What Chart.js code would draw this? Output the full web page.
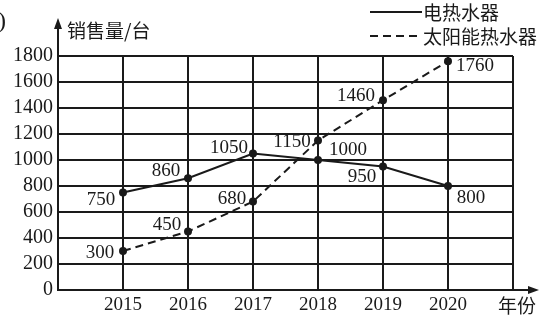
<!DOCTYPE html>
<html>
<head>
<meta charset="utf-8">
<script src="https://cdn.jsdelivr.net/npm/chart.js@4/dist/chart.umd.min.js"></script>
<style>
  html, body { margin: 0; padding: 0; background: #fff; }
  #wrap { width: 545px; height: 315px; position: relative; }
</style>
</head>
<body>
<div id="wrap"><canvas id="myChart"></canvas></div>
<script>
// DATOS DEL GRAFICO
const years = [2015, 2016, 2017, 2018, 2019, 2020];
const electricSales = [750, 860, 1050, 1000, 950, 800];
const solarSales = [300, 450, 680, 1150, 1460, 1760];
const yTicks = [0, 200, 400, 600, 800, 1000, 1200, 1400, 1600, 1800];
const seriesNames = ["电热水器", "太阳能热水器"];

// donde va cada etiqueta respecto a su punto [dx, dy]
const electricLabelPos = [[-22, 8], [-22, -7], [-24, -5], [30, -10], [-21, 11], [23, 12]];
const solarLabelPos = [[-23, 2], [-21, -6], [-21, -3], [-26, 2], [-27, -4], [27, 5]];

const INK = "#1a1a1a";
const NUM_FONT = "19px 'Liberation Serif', 'DejaVu Serif', serif";
const CJK_FONT = "19px 'Noto Sans CJK SC', sans-serif";

const toPoints = (vals) => vals.map((v, i) => ({ x: years[i], y: v }));

// PLUGIN PARA FLECHAS, TITULOS Y LEYENDA
const decorations = {
  id: "decorations",
  afterDraw(chart) {
    const ctx = chart.ctx;
    const area = chart.chartArea;
    ctx.save();
    ctx.strokeStyle = INK;
    ctx.fillStyle = INK;
    ctx.lineWidth = 2;

    // eje y con flecha
    ctx.beginPath();
    ctx.moveTo(area.left, area.top);
    ctx.lineTo(area.left, 24);
    ctx.stroke();
    ctx.beginPath();
    ctx.moveTo(area.left, 18);
    ctx.lineTo(area.left - 4, 29);
    ctx.lineTo(area.left + 4, 29);
    ctx.closePath();
    ctx.fill();

    // eje x con flecha
    ctx.beginPath();
    ctx.moveTo(area.right, area.bottom);
    ctx.lineTo(532, area.bottom);
    ctx.stroke();
    ctx.beginPath();
    ctx.moveTo(539, area.bottom);
    ctx.lineTo(528, area.bottom - 4);
    ctx.lineTo(528, area.bottom + 4);
    ctx.closePath();
    ctx.fill();

    ctx.font = CJK_FONT;
    ctx.textBaseline = "middle";
    ctx.textAlign = "left";
    ctx.fillText("销售量/台", 67, 31);
    ctx.fillText("年份", 498, 306);

    // resto del recorte original
    ctx.font = "24px 'Liberation Serif', serif";
    ctx.fillText(")", -2, 22);

    // leyenda
    chart.data.datasets.forEach((ds, i) => {
      const y = 12 + i * 24;
      ctx.setLineDash(ds.borderDash || []);
      ctx.lineWidth = 1.8;
      ctx.beginPath();
      ctx.moveTo(370, y);
      ctx.lineTo(422, y);
      ctx.stroke();
      ctx.setLineDash([]);
      ctx.font = CJK_FONT;
      ctx.fillText(ds.label, 423, y + 1);
    });

    // etiquetas de valores
    ctx.font = NUM_FONT;
    ctx.textAlign = "center";
    chart.data.datasets.forEach((ds, i) => {
      const meta = chart.getDatasetMeta(i);
      meta.data.forEach((pt, j) => {
        const off = ds.labelPos[j];
        ctx.fillText(String(ds.data[j].y), pt.x + off[0], pt.y + off[1]);
      });
    });
    ctx.restore();
  },
};

const canvas = document.getElementById("myChart");
const myChart = new Chart(canvas, {
  type: "line",
  data: {
    datasets: [
      {
        label: seriesNames[0],
        data: toPoints(electricSales),
        labelPos: electricLabelPos,
        borderColor: INK,
        backgroundColor: INK,
        borderWidth: 2,
        pointRadius: 3,
        tension: 0,
      },
      {
        label: seriesNames[1],
        data: toPoints(solarSales),
        labelPos: solarLabelPos,
        borderColor: INK,
        backgroundColor: INK,
        borderWidth: 2,
        borderDash: [8, 5],
        pointRadius: 3,
        tension: 0,
      },
    ],
  },
  options: {
    responsive: true,
    maintainAspectRatio: false,
    animation: false,
    layout: { padding: { top: 56, right: 32, left: 0, bottom: 0 } },
    plugins: { legend: { display: false }, tooltip: { enabled: false } },
    scales: {
      x: {
        type: "linear",
        min: years[0] - 1,
        max: years[years.length - 1] + 1,
        ticks: {
          stepSize: 1,
          autoSkip: false,
          maxRotation: 0,
          padding: 4,
          color: INK,
          font: { family: "'Liberation Serif', serif", size: 19 },
          callback: (v) => (years.includes(v) ? String(v) : ""),
        },
        grid: { color: INK, lineWidth: 2, drawTicks: false },
        border: { color: INK, width: 2 },
        afterFit: (scale) => { scale.height = 25; },
      },
      y: {
        min: yTicks[0],
        max: yTicks[yTicks.length - 1],
        afterBuildTicks: (scale) => { scale.ticks = yTicks.map((v) => ({ value: v })); },
        ticks: {
          autoSkip: false,
          padding: 5,
          color: INK,
          font: { family: "'Liberation Serif', serif", size: 20 },
          callback: (v) => String(v),
        },
        grid: { color: INK, lineWidth: 2, drawTicks: false },
        border: { color: INK, width: 2 },
        afterFit: (scale) => { scale.width = 58; },
      },
    },
  },
  plugins: [decorations],
});
</script>
</body>
</html>
